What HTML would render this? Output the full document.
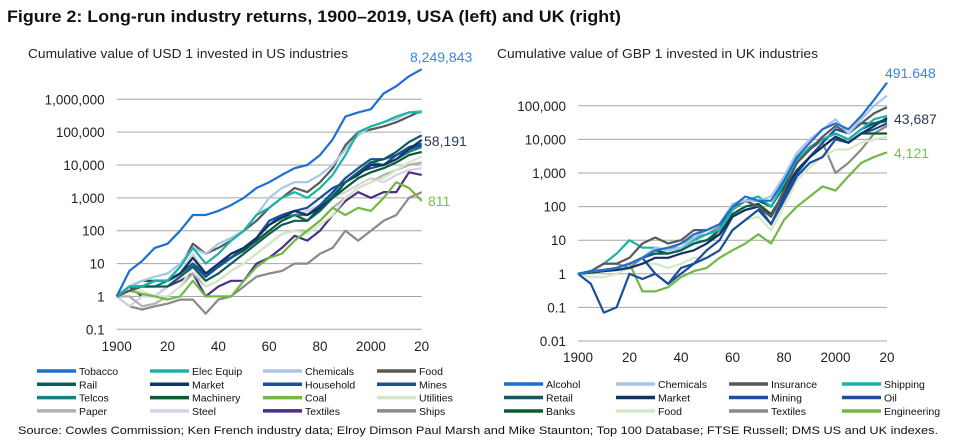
<!DOCTYPE html>
<html><head><meta charset="utf-8"><style>
body{margin:0;background:#fff;width:957px;height:442px;overflow:hidden;font-family:"Liberation Sans",sans-serif}
svg{display:block}
</style></head><body>
<svg id="s" width="957" height="442">
<text x="7" y="22" font-size="17" font-weight="bold" fill="#111" textLength="614" lengthAdjust="spacingAndGlyphs">Figure 2: Long-run industry returns, 1900–2019, USA (left) and UK (right)</text>
<text x="28" y="58" font-size="12.5" fill="#222" textLength="320" lengthAdjust="spacingAndGlyphs">Cumulative value of USD 1 invested in US industries</text>
<text x="497" y="58" font-size="12.5" fill="#222" textLength="321" lengthAdjust="spacingAndGlyphs">Cumulative value of GBP 1 invested in UK industries</text>
<text x="18" y="434" font-size="11" fill="#111" textLength="920" lengthAdjust="spacingAndGlyphs">Source: Cowles Commission; Ken French industry data; Elroy Dimson Paul Marsh and Mike Staunton; Top 100 Database; FTSE Russell; DMS US and UK indexes.</text>
<g id="us"></g>
<g id="uk"></g>
</svg>
<script>
const years=[1900,1905,1910,1915,1920,1925,1930,1935,1940,1945,1950,1955,1960,1965,1970,1975,1980,1985,1990,1995,2000,2005,2010,2015,2020];
const usNames=["Tobacco","Elec Equip","Chemicals","Food","Rail","Market","Household","Mines","Telcos","Machinery","Coal","Utilities","Paper","Steel","Textiles","Ships"];
const usColors=["#1f6fd0","#19b3a8","#a9c6e8","#595959","#0e5c5a","#0f3563","#1a4f9a","#1a4f9a","#14807f","#0c5a2f","#73b843","#d6e8c6","#b0b0b0","#d8cfe8","#4b2f8a","#8a8a8a"];
const usTobacco=[1,6,12,30,40,100,300,300,400,600,1000,2000,3000,5000,8000,10000,20000,60000,300000,400000,500000,1500000,2500000,5000000,8249843];
const usElec=[1,2,2,3,3,8,30,10,20,50,100,300,500,1000,1500,1000,2000,5000,20000,100000,150000,200000,300000,400000,400000];
const usChem=[1,2,3,4,5,10,30,20,40,60,100,300,1000,2000,3000,3000,5000,10000,30000,80000,150000,200000,250000,400000,450000];
const usFood=[1,1.5,2,3,3,8,40,20,30,50,100,200,500,1000,2000,1500,3000,8000,40000,100000,120000,150000,200000,300000,450000];
const usRail=[1,2,2,2,2,4,8,3,5,10,20,40,80,150,200,200,400,1000,3000,6000,12000,15000,25000,50000,80000];
const usMarket=[1,2,2,3,3,5,15,5,10,20,30,60,150,250,400,300,500,1000,3000,5000,10000,10000,15000,30000,58191];
const usHousehold=[1,1.5,2,3,3,5,10,4,8,15,30,60,150,300,400,300,600,1500,4000,8000,15000,15000,20000,35000,45000];
const usMines=[1,2,2,3,3,5,10,4,8,20,30,60,200,300,400,500,1000,2000,3000,6000,8000,10000,20000,30000,40000];
const usTelcos=[1,2,2,2,3,5,10,5,8,15,30,60,150,250,300,300,500,1200,3000,6000,12000,10000,15000,25000,35000];
const usMachinery=[1,2,3,3,3,5,15,5,8,15,25,50,100,200,300,200,500,1000,2000,4000,6000,8000,12000,20000,25000];
const usCoal=[1,1.5,1.2,1,0.8,1,3,1,1,1,3,8,15,20,50,100,200,500,300,500,400,1000,3000,2000,811];
const usUtilities=[1,1.5,1.5,1,1,2,8,2,3,6,10,20,40,80,100,80,150,300,1000,2000,3000,4000,7000,12000,18000];
const usPaper=[1,1,0.5,0.6,1,2,5,2,3,6,10,20,40,80,100,100,200,500,1000,2000,3000,5000,7000,10000,12000];
const usSteel=[1,0.5,1,1,2,5,20,5,10,20,30,50,100,200,300,400,600,1000,1500,2500,4000,3000,5000,7000,8000];
const usTextiles=[1,2,1,1,2,3,5,1,2,3,3,10,15,30,70,50,100,300,800,1500,1000,1500,1500,6000,5000];
const usShips=[1,0.5,0.4,0.5,0.6,0.8,0.8,0.3,0.8,1,2,4,5,6,10,10,20,30,100,50,100,200,300,1000,1500];
const usSeries=[usTobacco,usElec,usChem,usFood,usRail,usMarket,usHousehold,usMines,usTelcos,usMachinery,usCoal,usUtilities,usPaper,usSteel,usTextiles,usShips];
const usTicks=["0.1","1","10","100","1,000","10,000","100,000","1,000,000"];
const ukNames=["Alcohol","Chemicals","Insurance","Shipping","Retail","Market","Mining","Oil","Banks","Food","Textiles","Engineering"];
const ukColors=["#1f6fd0","#a9c6e8","#595959","#19b3a8","#0e5c5a","#0f3563","#1a4f9a","#1a4f9a","#0c5a2f","#d6e8c6","#8a8a8a","#73b843"];
const ukAlcohol=[1,1.2,1.3,1.5,2,3,5,6,8,15,20,30,100,200,150,150,600,3000,8000,20000,30000,20000,50000,150000,491648];
const ukChem=[1,1.2,1.3,1.5,2,3,6,5,6,12,20,30,120,150,150,200,800,4000,10000,20000,40000,15000,40000,100000,200000];
const ukInsurance=[1,1.2,2,2,3,8,12,8,10,20,20,30,100,150,100,50,300,2000,5000,12000,25000,15000,30000,60000,90000];
const ukShipping=[1,1.2,2,4,10,6,6,5,6,10,15,20,80,150,200,100,500,2500,6000,10000,15000,10000,20000,40000,50000];
const ukRetail=[1,1.1,1.3,1.5,2,3,4,4,5,8,10,20,100,150,150,100,400,2000,5000,10000,15000,10000,20000,30000,35000];
const ukMarket=[1,1.1,1.2,1.3,1.5,2,3,3,4,5,8,15,50,80,100,50,300,1200,3000,6000,12000,8000,15000,25000,43687];
const ukMining=[1,1.2,1.3,1.5,2,3,1,0.5,1,2,3,5,20,40,80,30,150,800,2000,3000,10000,8000,15000,20000,30000];
const ukOil=[1,0.5,0.07,0.1,1,0.7,1,0.5,1.5,2,5,10,50,80,100,30,200,1000,3000,8000,20000,15000,30000,30000,40000];
const ukBanks=[1,1.1,1.2,1.5,2,3,5,4,5,8,10,15,60,100,120,60,250,1200,3000,6000,12000,8000,15000,15000,15000];
const ukFood=[1,0.8,0.8,1,1.5,2,2,1.5,2,3,3,5,20,40,50,20,100,600,1500,3000,5000,5000,8000,10000,12000];
const ukTextiles=[1,1.2,2,2,1.5,3,6,5,8,12,15,25,80,150,100,50,200,1000,3000,8000,1000,2000,5000,15000,25000];
const ukEngineering=[1,1.1,1.3,1.5,2,0.3,0.3,0.4,0.8,1.2,1.5,3,5,8,15,8,40,100,200,400,300,800,2000,3000,4121];
const ukSeries=[ukAlcohol,ukChem,ukInsurance,ukShipping,ukRetail,ukMarket,ukMining,ukOil,ukBanks,ukFood,ukTextiles,ukEngineering];
const ukTicks=["0.01","0.1","1","10","100","1,000","10,000","100,000"];
const xTickLabels=["1900","20","40","60","80","2000","20"];
const xTickYears=[1900,1920,1940,1960,1980,2000,2020];

const NS="http://www.w3.org/2000/svg";
function mk(tag,attrs,parent){const e=document.createElementNS(NS,tag);for(const k in attrs)e.setAttribute(k,attrs[k]);parent.appendChild(e);return e;}
function chart(g,cfg){
  const xS=y=>cfg.x0+(y-1900)/120*(cfg.x1-cfg.x0);
  const yS=v=>cfg.yBase-(Math.log10(v)-cfg.minExp)*cfg.dec;
  cfg.ticks.forEach((t,i)=>{
    const yy=cfg.yBase-i*cfg.dec;
    const l=mk('line',{x1:cfg.x0,x2:cfg.x1,y1:yy,y2:yy,stroke:'#a6a6a6','stroke-width':1},g);
    
    
    const t2=mk('text',{x:cfg.x0-12,y:yy+5,'text-anchor':'end','font-size':13.5,fill:'#222'},g);
    t2.textContent=t;
    
    
  });
  xTickYears.forEach((yr,i)=>{
    const t=mk('text',{x:xS(yr),y:cfg.xLabY,'text-anchor':'middle','font-size':13.5,fill:'#222'},g);
    t.textContent=xTickLabels[i];
    
    
  });
  const order=cfg.series.map((s,i)=>i).reverse();
  order.forEach(i=>{
    const d=cfg.series[i].map((v,j)=>(j?'L':'M')+xS(years[j]).toFixed(1)+' '+yS(v).toFixed(1)).join(' ');
    const p=mk('path',{d:d,fill:'none',stroke:cfg.colors[i],'stroke-width':2.2,'stroke-linejoin':'round'},g);
    
    
  });
  cfg.names.forEach((n,i)=>{
    const col=i%4,row=Math.floor(i/4);
    const lx=cfg.legX[col],ly=cfg.legY+row*cfg.legDy;
    const l=mk('line',{x1:lx,x2:lx+39,y1:ly-4,y2:ly-4,stroke:cfg.colors[i],'stroke-width':3.5},g);
    
    
    const t=mk('text',{x:lx+42,y:ly,'font-size':10.5,fill:'#111'},g);
    t.textContent=n;
    
    
  });
}
chart(document.getElementById('us'),{x0:116.7,x1:421.7,yBase:329.3,minExp:-1,dec:32.86,ticks:usTicks,xLabY:351,series:usSeries,colors:usColors,names:usNames,legX:[37,150,263,377],legY:375,legDy:13.3});
chart(document.getElementById('uk'),{x0:578,x1:887,yBase:341,minExp:-2,dec:33.6,ticks:ukTicks,xLabY:362,series:ukSeries,colors:ukColors,names:ukNames,legX:[504,616,729,842],legY:388,legDy:13.5});
const s=document.getElementById('s');
[["8,249,843",410,62,"#3a86e0","us-end-label-tobacco"],["58,191",424,146,"#2b3a55","us-end-label-market"],["811",428,206,"#7cc04a","us-end-label-coal"],
 ["491.648",885,78,"#3a86e0","uk-end-label-alcohol"],["43,687",894,124,"#2b3a55","uk-end-label-market"],["4,121",894,158,"#7cc04a","uk-end-label-engineering"]].forEach(a=>{
  const t=mk('text',{x:a[1],y:a[2],'font-size':14,fill:a[3]},s);
  t.textContent=a[0];
  
  
});
</script>
</body></html>
